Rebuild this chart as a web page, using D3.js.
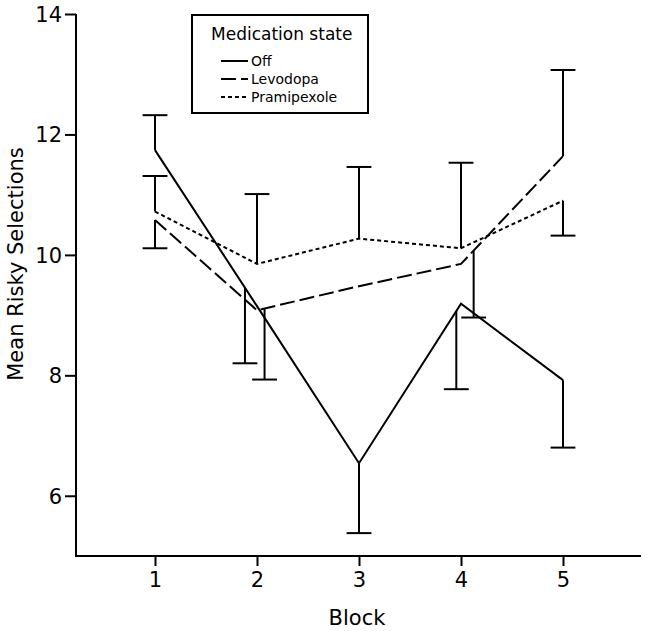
<!DOCTYPE html>
<html>
<head>
<meta charset="utf-8">
<script src="https://cdn.jsdelivr.net/npm/d3@7"></script>
<style>
  html, body { margin: 0; padding: 0; background: #fff; }
  svg { display: block; }
  text { font-family: "DejaVu Sans", sans-serif; fill: #000; }
</style>
</head>
<body>
<svg id="chart" width="648" height="631"></svg>
<script>
// ---- data ----
const blocks = [1, 2, 3, 4, 5];
const seriesNames = ["Off", "Levodopa", "Pramipexole"];
const offMeans = [11.74, 9.15, 6.54, 9.19, 7.92];
const levodopaMeans = [10.58, 9.08, 9.48, 9.85, 11.64];
const pramipexoleMeans = [10.72, 9.85, 10.27, 10.11, 10.90];
// one-sided error bar end values
const offErrEnds = [12.32, 8.20, 5.38, 7.77, 6.80];
const levodopaErrEnds = [10.11, 7.93, null, 8.96, 13.07];
const pramipexoleErrEnds = [11.31, 11.01, 11.46, 11.53, 10.32];
const yTicks = [6, 8, 10, 12, 14];
const xTicks = [1, 2, 3, 4, 5];
const xLabel = "Block";
const yLabel = "Mean Risky Selections";
const legendTitle = "Medication state";

// ---- layout / style (not data) ----
const barShift = {               // horizontal nudge of error bars, in block units
  "Off": [0, -0.118, 0, -0.046, 0],
  "Levodopa": [0, 0.074, 0, 0.124, 0],
  "Pramipexole": [0, 0, 0, 0, 0]
};
const dashes = { "Off": null, "Levodopa": "15,5", "Pramipexole": "4,3" };

const series = [
  { name: "Off", means: offMeans, ends: offErrEnds },
  { name: "Levodopa", means: levodopaMeans, ends: levodopaErrEnds },
  { name: "Pramipexole", means: pramipexoleMeans, ends: pramipexoleErrEnds }
];

const svg = d3.select("#chart");
const x = d3.scaleLinear().domain([1, 5]).range([155, 563]);
const y = d3.scaleLinear().domain([5, 14]).range([556, 14]);
const axisLeftX = 76, axisRightX = 641, axisBottomY = 556;

// axes
const yAxis = svg.append("g").attr("transform", `translate(${axisLeftX},0)`)
  .call(d3.axisLeft(y).tickValues(yTicks).tickSize(11).tickPadding(3).tickSizeOuter(0));
yAxis.select(".domain").remove();
yAxis.append("line").attr("x1", 0).attr("x2", 0).attr("y1", y(14)).attr("y2", axisBottomY + 1)
  .attr("stroke", "#000").attr("stroke-width", 2);
yAxis.selectAll(".tick line").attr("stroke", "#000").attr("stroke-width", 2);
yAxis.selectAll(".tick text").attr("font-size", 21).attr("font-family", "DejaVu Sans")
  .attr("fill", "#000").attr("dy", "0.35em");

const xAxis = svg.append("g").attr("transform", `translate(0,${axisBottomY})`)
  .call(d3.axisBottom(x).tickValues(xTicks).tickFormat(d3.format("d")).tickSize(10).tickPadding(6).tickSizeOuter(0));
xAxis.select(".domain").remove();
xAxis.append("line").attr("x1", axisLeftX - 1).attr("x2", axisRightX).attr("y1", 0).attr("y2", 0)
  .attr("stroke", "#000").attr("stroke-width", 2);
xAxis.selectAll(".tick line").attr("stroke", "#000").attr("stroke-width", 2);
xAxis.selectAll(".tick text").attr("font-size", 21).attr("font-family", "DejaVu Sans")
  .attr("fill", "#000").attr("dy", "0.71em");

// axis labels
svg.append("text").attr("transform", `translate(23,264) rotate(-90)`)
  .attr("text-anchor", "middle").attr("font-size", 21).text(yLabel);
svg.append("text").attr("x", 357).attr("y", 625)
  .attr("text-anchor", "middle").attr("font-size", 21).text(xLabel);

// value along a series polyline at block position bx
function valueAt(means, bx) {
  for (let i = 0; i < blocks.length - 1; i++) {
    if (bx >= blocks[i] && bx <= blocks[i + 1]) {
      const t = (bx - blocks[i]) / (blocks[i + 1] - blocks[i]);
      return means[i] + t * (means[i + 1] - means[i]);
    }
  }
  return bx < blocks[0] ? means[0] : means[means.length - 1];
}

const line = d3.line().x((d, i) => x(blocks[i])).y(d => y(d));
const capHalf = 12.4;

series.forEach(s => {
  svg.append("path").datum(s.means).attr("d", line)
    .attr("fill", "none").attr("stroke", "#000").attr("stroke-width", 2)
    .attr("stroke-dasharray", dashes[s.name]).attr("stroke-linejoin", "miter");
  const g = svg.append("g");
  s.ends.forEach((e, i) => {
    if (e === null) return;
    const bx = blocks[i] + barShift[s.name][i];
    const v0 = valueAt(s.means, bx);
    const px = x(bx);
    g.append("line").attr("x1", px).attr("x2", px).attr("y1", y(v0)).attr("y2", y(e))
      .attr("stroke", "#000").attr("stroke-width", 2);
    g.append("line").attr("x1", px - capHalf).attr("x2", px + capHalf).attr("y1", y(e)).attr("y2", y(e))
      .attr("stroke", "#000").attr("stroke-width", 2);
  });
});

// legend
const lg = svg.append("g");
lg.append("rect").attr("x", 192).attr("y", 15).attr("width", 176).attr("height", 98)
  .attr("fill", "#fff").attr("stroke", "#000").attr("stroke-width", 2);
lg.append("text").attr("x", 211).attr("y", 40).attr("font-size", 17).text(legendTitle);
seriesNames.forEach((n, i) => {
  const ly = 61 + i * 18;
  lg.append("line").attr("x1", 221).attr("x2", 248).attr("y1", ly).attr("y2", ly)
    .attr("stroke", "#000").attr("stroke-width", 2).attr("stroke-dasharray", dashes[n]);
  lg.append("text").attr("x", 251).attr("y", ly + 5).attr("font-size", 14).text(n);
});
</script>
</body>
</html>
